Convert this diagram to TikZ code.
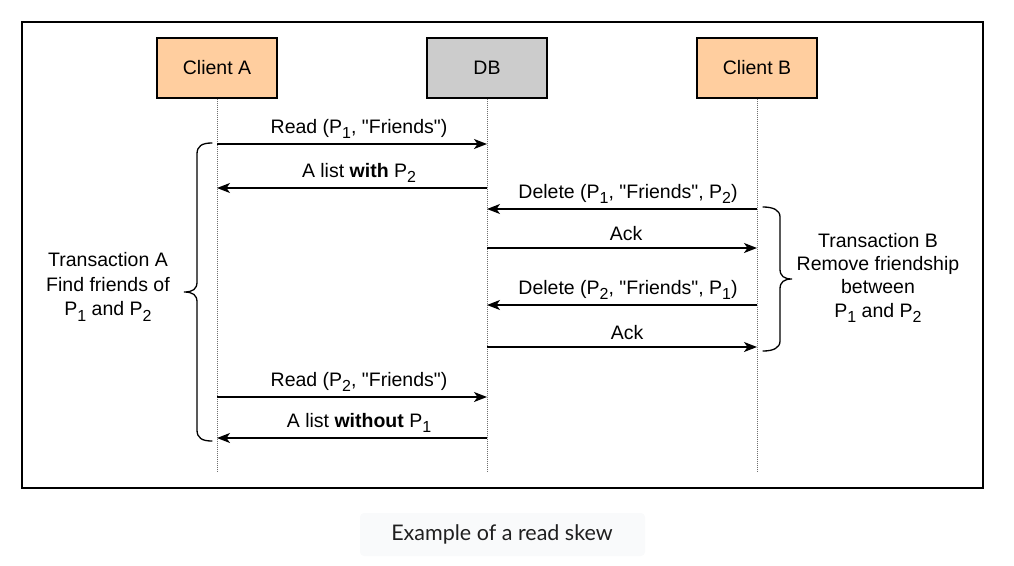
\documentclass[tikz,border=0pt]{standalone}
\usepackage{fontspec}
\newfontfamily\lib{Liberation Sans}
\newfontfamily\capfont{Lato}
\usetikzlibrary{arrows.meta}
\definecolor{peach}{HTML}{FFCE9F}
\definecolor{dbgray}{HTML}{CCCCCC}
\definecolor{capbg}{HTML}{F9FAFB}
\definecolor{capink}{HTML}{1F1F1F}
\definecolor{lifegray}{HTML}{707070}
\newcommand\lsub[1]{\raisebox{-5.5pt}{\fontsize{16}{16}\selectfont #1}}
\begin{document}
\begin{tikzpicture}[x=1pt,y=-1pt,
  every node/.style={font=\lib\fontsize{19.5}{23}\selectfont},
  actor/.style={draw, line width=1.2pt, minimum width=120pt, minimum height=60pt, inner sep=0pt},
  life/.style={draw=lifegray, dash pattern=on 1pt off 1pt, line width=1pt},
  msg/.style={-{Stealth[length=13pt,width=10pt,inset=3.5pt]}, line width=1.3pt},
  lbl/.style={midway, anchor=base, inner sep=0pt, yshift=11pt, xshift=7pt},
  brace/.style={line width=1.3pt, line cap=round},
  note/.style={align=center, inner sep=0pt}]
\useasboundingbox (0,0) rectangle (1014,565);
\draw[line width=1.4pt] (22,22) rectangle (983,488);
% actors
\node[actor, fill=peach] (ca) at (217,68) {Client A};
\node[actor, fill=dbgray] (db) at (487,68) {DB};
\node[actor, fill=peach] (cb) at (757,68) {Client B};
% lifelines
\coordinate (caend) at (217,472);
\coordinate (dbend) at (487,472);
\coordinate (cbend) at (757,472);
\draw[life] (ca.south) -- (caend);
\draw[life] (db.south) -- (dbend);
\draw[life] (cb.south) -- (cbend);
% message points
\foreach \n/\y in {1/144,2/188,7/397,8/438}{
  \coordinate (a\n) at (217,\y);
  \coordinate (d\n) at (487,\y);
}
\foreach \n/\y in {3/209,4/248,5/305,6/347}{
  \coordinate (d\n) at (487,\y);
  \coordinate (b\n) at (757,\y);
}
\draw[msg] (a1) -- (d1) node[lbl] {Read (P\lsub{1}, "Friends")};
\draw[msg] (d2) -- (a2) node[lbl] {A list \textbf{with} P\lsub{2}};
\draw[msg] (b3) -- (d3) node[lbl, xshift=-1pt] {Delete (P\lsub{1}, "Friends", P\lsub{2})};
\draw[msg] (d4) -- (b4) node[lbl, yshift=-3pt, xshift=-3pt] {Ack};
\draw[msg] (b5) -- (d5) node[lbl, xshift=-1pt] {Delete (P\lsub{2}, "Friends", P\lsub{1})};
\draw[msg] (d6) -- (b6) node[lbl, yshift=-3pt, xshift=-2pt] {Ack};
\draw[msg] (a7) -- (d7) node[lbl] {Read (P\lsub{2}, "Friends")};
\draw[msg] (d8) -- (a8) node[lbl] {A list \textbf{without} P\lsub{1}};
% braces
\draw[brace] (212,143) .. controls (202,143) and (197,146) .. (197,154) -- (197,282)
  .. controls (197,289) and (193,292) .. (184,292)
  .. controls (193,292) and (197,295) .. (197,302) -- (197,430)
  .. controls (197,438) and (202,441) .. (212,441);
\draw[brace] (763,207) .. controls (773,207) and (780,210) .. (780,217) -- (780,269)
  .. controls (780,276) and (784,279) .. (792,279)
  .. controls (784,279) and (780,282) .. (780,289) -- (780,341)
  .. controls (780,348) and (773,351) .. (763,351);
% notes
\node[note, font=\lib\fontsize{19.5}{24.5}\selectfont] (ta) at (108,287)
  {Transaction A\\Find friends of\\P\lsub{1} and P\lsub{2}};
\node[note, font=\lib\fontsize{19.5}{23.3}\selectfont] (tb) at (878,278)
  {Transaction B\\Remove friendship\\between\\P\lsub{1} and P\lsub{2}};
% caption
\fill[capbg, rounded corners=4pt] (360,513) rectangle (645,556);
\node[text=capink, font=\capfont\fontsize{21.5}{26}\selectfont] (cap) at (502,534) {Example of a read skew};
\end{tikzpicture}
\end{document}
